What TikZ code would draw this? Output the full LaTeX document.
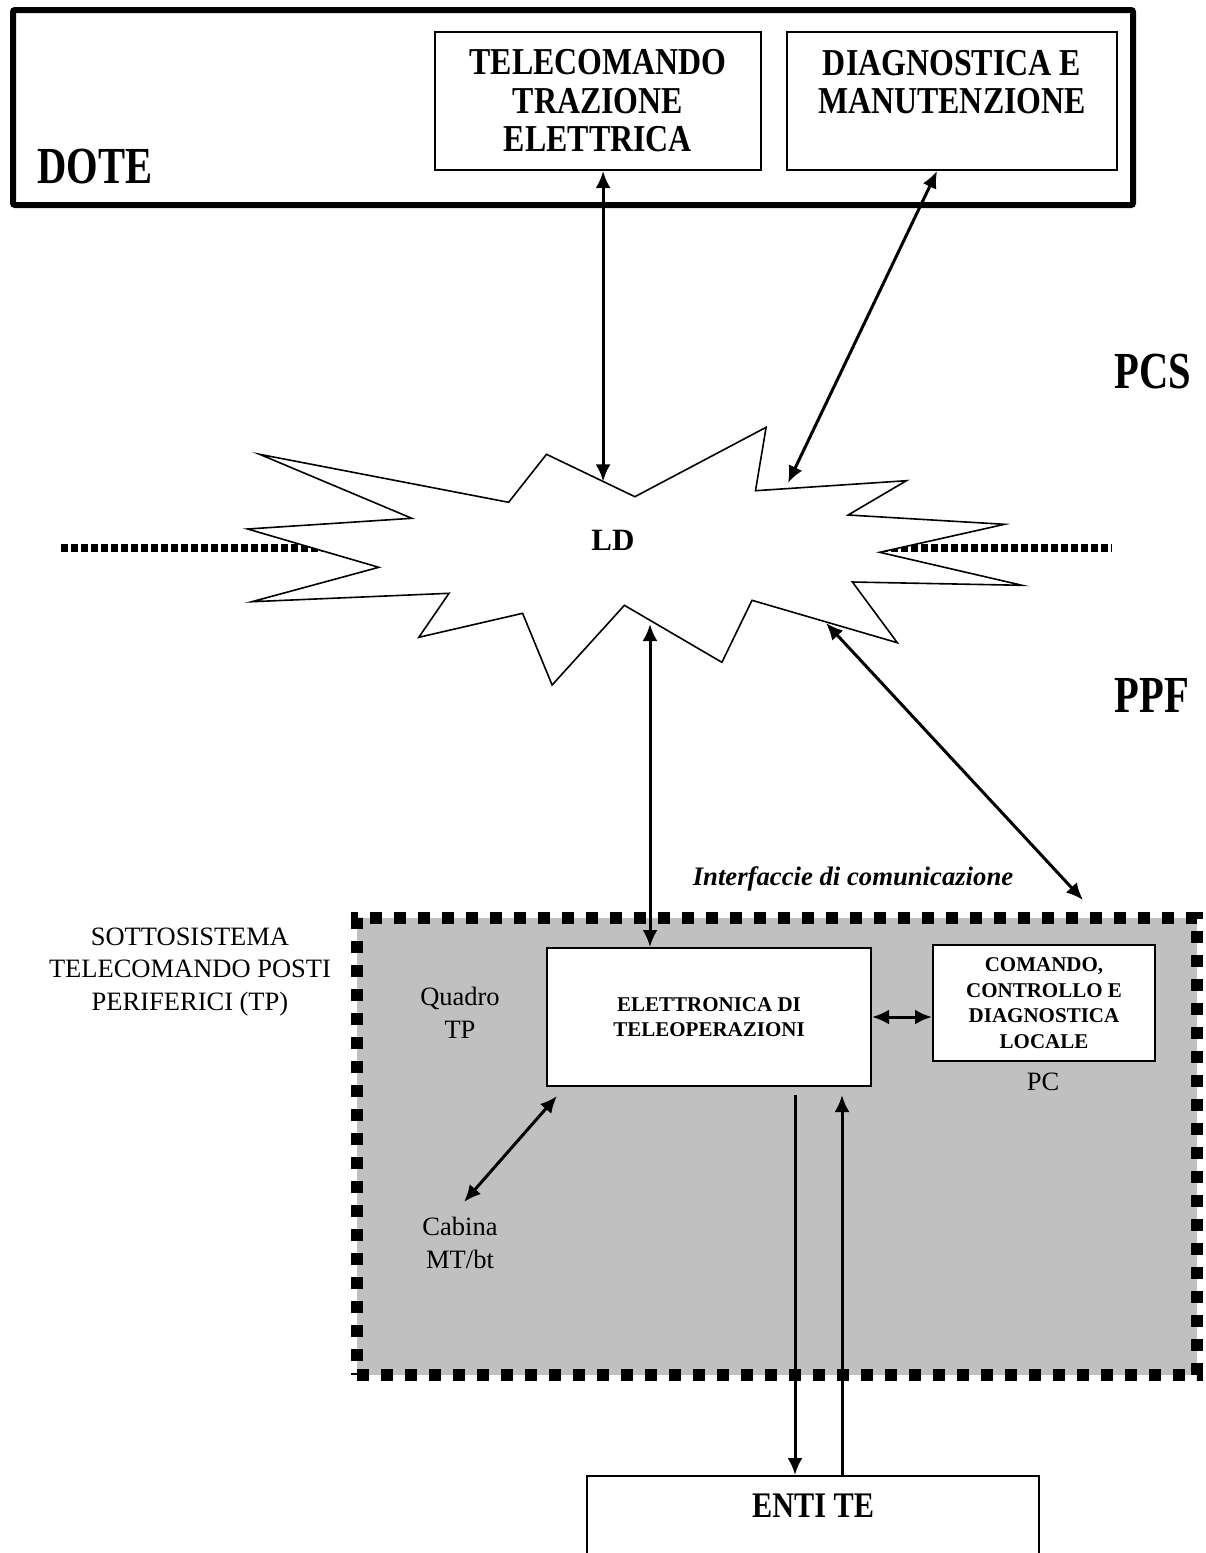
\documentclass[tikz,border=0pt]{standalone}
\usepackage{fontspec}
\setmainfont{Liberation Serif}
\newfontfamily\narrowserif[FakeStretch=0.84]{Liberation Serif}
\newfontfamily\tallserif[FakeStretch=0.78]{Liberation Serif}
\usepackage{tikz}
\usetikzlibrary{positioning,arrows.meta,calc}
\usepackage{xcolor}
\definecolor{panel}{HTML}{C0C0C0}
\definecolor{ink}{HTML}{000000}

\begin{document}
\begin{tikzpicture}[x=1pt, y=-1pt, >={Latex[length=17pt,width=15pt]},
    box/.style={draw=ink, line width=2pt, fill=white, inner sep=0pt, align=center},
    bigbold/.style={font=\tallserif\bfseries\fontsize{52}{56}\selectfont},
    boxtext/.style={font=\narrowserif\bfseries\fontsize{38}{38.5}\selectfont},
    smallbold/.style={font=\bfseries\fontsize{21}{25.5}\selectfont},
    plain/.style={font=\fontsize{26.5}{32.5}\selectfont, align=center, inner sep=0pt},
    link/.style={<->, line width=3pt},
    dotline/.style={line width=8pt, dash pattern=on 6.5pt off 3.5pt}]
    \useasboundingbox (0,0) rectangle (1205,1553);
    \clip (0,0) rectangle (1205,1553);

    % centro DOTE
    \node[draw=ink, line width=6pt, rounded corners=2pt, minimum width=1120pt, minimum height=195pt, inner sep=0pt] (dote) at (573,107.5) {};
    \node[bigbold, anchor=base] (dotelbl) at (95,183) {DOTE};
    \node[box, boxtext, minimum width=326pt, minimum height=138pt] (tel) at (598,101) {TELECOMANDO\\TRAZIONE\\ELETTRICA};
    \node[box, boxtext, minimum width=330pt, minimum height=138pt, right=24pt of tel] (dia) {DIAGNOSTICA E\\MANUTENZIONE\\\mbox{}};

    \node[bigbold, anchor=base] (pcs) at (1153,388) {PCS};
    \node[bigbold, anchor=base] (ppf) at (1152,712) {PPF};

    % linea di separazione e nuvola LD
    \coordinate (lnw) at (61,548);
    \coordinate (lne) at (1112,548);
    \draw[dotline] (lnw) -- (lne);
    \foreach \x/\y [count=\i] in {259.6/454.3, 508.6/502.3, 546.5/454.3, 634.9/496.7, 766.1/427.3, 755.5/490.7,
        906.4/480.7, 848.1/515, 1004.6/524.3, 879.7/552.3, 1022.1/585.3, 852.4/582, 897.3/642.7, 752/600.3,
        721.9/662.3, 624.4/605.3, 552.1/685, 522.6/613.3, 418.8/637.3, 449/593.3, 251.9/601.7, 378.8/567.3,
        247.6/529, 411.8/518.3}
      \coordinate (s\i) at (\x,\y);
    \draw[line width=1.6pt, fill=white, line join=miter] (s1) \foreach \i in {2,...,24}{ -- (s\i)} -- cycle;
    \node[font=\bfseries\fontsize{31}{31}\selectfont, anchor=base] (ld) at (613,550) {LD};

    \coordinate (ldn) at ($(s3)!0.64!(s4)$);
    \coordinate (ldne) at (788,483);
    \draw[link] (ldn) -- (ldn |- tel.south);
    \draw[link] (ldne) -- ($(dia.south west)!0.455!(dia.south east)$);

    % sottosistema TP
    \node[draw=ink, fill=panel, line width=12pt, dash pattern=on 12pt off 12pt, minimum width=840pt, minimum height=457pt, inner sep=0pt] (tp) at (777,1146.5) {};
    \node[plain, anchor=north] (tplbl) at (190,927.6) {SOTTOSISTEMA\\TELECOMANDO POSTI\\PERIFERICI (TP)};
    \node[font=\bfseries\itshape\fontsize{26.7}{30}\selectfont, anchor=base] (intf) at (853,885) {Interfaccie di comunicazione};
    \node[box, smallbold, minimum width=324pt, minimum height=138pt] (elet) at (709,1017) {ELETTRONICA DI\\TELEOPERAZIONI};
    \node[box, smallbold, minimum width=222pt, minimum height=116pt, anchor=north west] (com) at (932,944) {COMANDO,\\CONTROLLO E\\DIAGNOSTICA\\LOCALE};
    \node[plain, anchor=north] (quadro) at (460,987) {Quadro\\TP};
    \node[plain, anchor=north] (cab) at (460,1217) {Cabina\\MT/bt};
    \node[plain, anchor=base] (pclbl) at (1043,1090) {PC};

    \coordinate (ldsw) at (650,624);
    \coordinate (ldse) at (826,623);
    \coordinate (tpne) at (1083,900);
    \draw[link] (ldsw) -- (ldsw |- elet.north);
    \draw[link] (ldse) -- (tpne);
    \draw[link] (elet.east) -- (elet.east -| com.west);
    \draw[link] ([shift={(11,9)}]elet.south west) -- ([xshift=4pt,yshift=15pt]cab.north);

    % enti TE
    \node[draw=ink, line width=2pt, fill=white, minimum width=452pt, minimum height=160pt, inner sep=0pt, anchor=north] (enti) at (813,1475) {};
    \node[font=\narrowserif\bfseries\fontsize{36}{36}\selectfont, anchor=base] (entilbl) at (813,1517) {ENTI TE};
    \coordinate (dnx) at ([xshift=86pt,yshift=-8pt]elet.south);
    \coordinate (upx) at ([xshift=133pt,yshift=-8pt]elet.south);
    \draw[->, line width=3pt] (dnx) -- (dnx |- enti.north);
    \draw[->, line width=3pt] (upx |- enti.north) -- (upx);
  \end{tikzpicture}
\end{document}
